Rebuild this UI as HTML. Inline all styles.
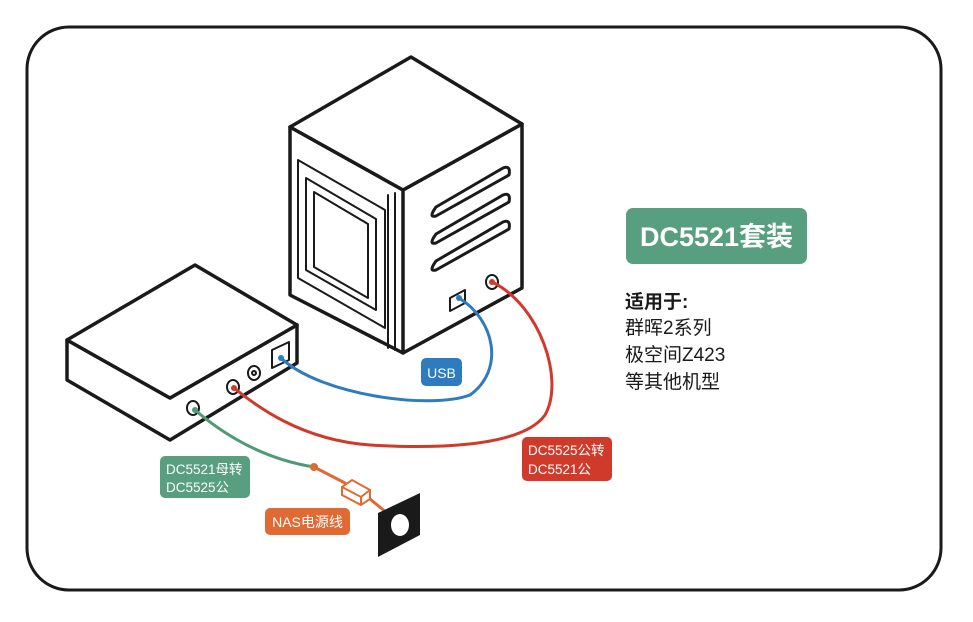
<!DOCTYPE html>
<html><head><meta charset="utf-8"><style>
html,body{margin:0;padding:0;background:#fff;}
svg{display:block;}
text{font-family:"Liberation Sans","Noto Sans CJK SC",sans-serif;}
</style></head><body>
<svg width="973" height="622" viewBox="0 0 973 622" xmlns="http://www.w3.org/2000/svg">
<rect x="27" y="27" width="914" height="563" rx="42" fill="#fff" stroke="#1a1a1a" stroke-width="3"/>
<g fill="#fff" stroke="#1a1a1a" stroke-width="3.5" stroke-linejoin="round" stroke-linecap="round">
<!-- cube -->
<path d="M290,127 L403,190 L522,124 L522,288 L403,353 L290,295 Z"/>
<path d="M290,127 L411,57 L522,124 L403,190 Z"/>
<line x1="403" y1="190" x2="403" y2="353"/>
<line x1="395" y1="193" x2="395" y2="350" stroke-width="2"/>
<line x1="388" y1="195" x2="388" y2="348" stroke-width="2"/>
<path d="M298,160 L385,210 L385,328 L298,278 Z" stroke-width="2"/>
<path d="M306,178 L376,219 L376,310 L306,270 Z" stroke-width="2"/>
<path d="M314,192 L368,224 L368,298 L314,267 Z" stroke-width="2"/>
<path d="M436,207 L503,168 Q511,165 509,175 L436,216 Q428,218 436,207 Z" stroke-width="3"/>
<path d="M436,234 L503,195 Q511,192 509,202 L436,243 Q428,245 436,234 Z" stroke-width="3"/>
<path d="M436,261 L503,222 Q511,219 509,229 L436,270 Q428,272 436,261 Z" stroke-width="3"/>
<path d="M450,298 L465,290 L465,303 L450,311 Z" stroke-width="2"/>
<ellipse cx="492" cy="282" rx="6" ry="7" stroke-width="2"/>
<!-- small box -->
<path d="M67,340 L170,398 L297,325 L297,363 L170,440 L67,380 Z"/>
<path d="M67,340 L195,265 L297,325 L170,398 Z"/>
<path d="M272,350 L289,342 L289,360 L272,368 Z" stroke-width="2"/>
<ellipse cx="254" cy="373" rx="6" ry="7" stroke-width="2"/>
<circle cx="254" cy="373" r="2" stroke-width="2"/>
<ellipse cx="233" cy="387" rx="6" ry="7" stroke-width="2"/>
<ellipse cx="193" cy="408" rx="6" ry="7" stroke-width="2"/>
</g>
<!-- cables -->
<g fill="none" stroke-width="3" stroke-linecap="round">
<path d="M459,298 C495,320 505,370 470,395 C430,410 320,395 281,358" stroke="#2f7bbf"/>
<path d="M492,282 C540,305 565,380 545,415 C520,450 420,448 370,445 C300,440 255,405 234,388" stroke="#d03a2a"/>
<path d="M195,410 C230,440 270,460 314,467" stroke="#4f9b78"/>
<path d="M314,467 L345,483 M365,495 L392,517" stroke="#e06a34"/>
</g>
<circle cx="281" cy="358" r="3" fill="#2f7bbf"/>
<circle cx="459" cy="298" r="3" fill="#2f7bbf"/>
<circle cx="234" cy="388" r="3" fill="#d03a2a"/>
<circle cx="492" cy="282" r="3" fill="#d03a2a"/>
<circle cx="195" cy="410" r="3" fill="#4f9b78"/>
<circle cx="314" cy="467" r="4" fill="#e06a34"/>
<path d="M342,487 L352,480 L370,490 L370,499 L361,505 L342,495 Z" fill="#fff" stroke="#e06a34" stroke-width="2"/>
<path d="M342,487 L361,497 L370,490 M361,497 L361,505" fill="none" stroke="#e06a34" stroke-width="2"/>
<path d="M378,513 L420,493 L420,535 L378,557 Z" fill="#1a1a1a"/>
<ellipse cx="400" cy="525" rx="9" ry="11" fill="#fff"/>
<!-- labels -->
<rect x="421" y="358" width="41" height="28" rx="5" fill="#2f7bbf"/>
<text x="441.5" y="378" fill="#fff" font-size="14" text-anchor="middle">USB</text>
<rect x="522" y="437" width="90" height="44" rx="5" fill="#d03a2a"/>
<text x="528" y="455" fill="#fff" font-size="13.5">DC5525公转</text>
<text x="528" y="474" fill="#fff" font-size="13.5">DC5521公</text>
<rect x="160" y="456" width="90" height="42" rx="5" fill="#579f7e"/>
<text x="166" y="474" fill="#fff" font-size="13.5">DC5521母转</text>
<text x="166" y="492" fill="#fff" font-size="13.5">DC5525公</text>
<rect x="265" y="508" width="85" height="27" rx="5" fill="#e06a34"/>
<text x="307.5" y="527" fill="#fff" font-size="14" text-anchor="middle">NAS电源线</text>
<rect x="626" y="208" width="181" height="56" rx="7" fill="#579f7e"/>
<text x="716.5" y="246" fill="#fff" font-size="27" font-weight="bold" text-anchor="middle">DC5521套装</text>
<text x="625" y="308" fill="#1a1a1a" font-size="19" font-weight="bold">适用于:</text>
<text x="625" y="334" fill="#1a1a1a" font-size="19">群晖2系列</text>
<text x="625" y="361" fill="#1a1a1a" font-size="19">极空间Z423</text>
<text x="625" y="388" fill="#1a1a1a" font-size="19">等其他机型</text>
</svg>
</body></html>
